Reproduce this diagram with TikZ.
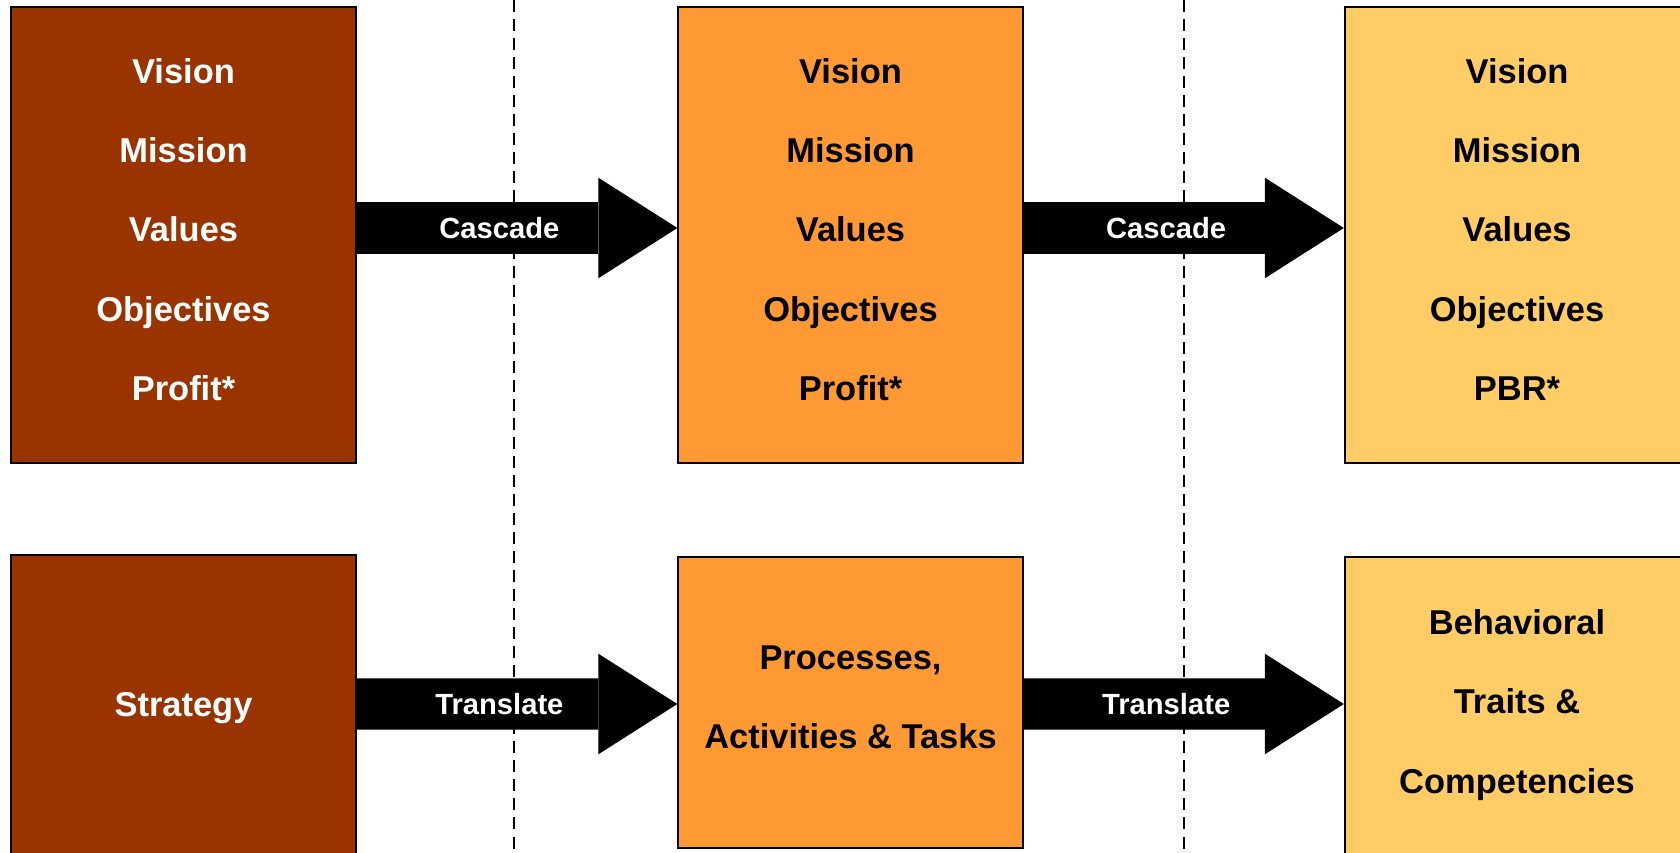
\documentclass[tikz,border=0pt]{standalone}
\usepackage{fontspec}
\setmainfont{Liberation Sans}
\usetikzlibrary{arrows.meta}
\definecolor{rustbrown}{HTML}{993300}
\definecolor{deptorange}{HTML}{FF9933}
\definecolor{indivyellow}{HTML}{FFCC66}

\begin{document}
\begin{tikzpicture}[x=0.01cm, y=-0.01cm]

\tikzstyle{orgbox}=[align=center, draw=black, line width=0.6pt, minimum
width=3.44cm, text depth=0.11cm, font=\bfseries\fontsize{9.8}{22.6}\selectfont]
\tikzstyle{fatarrow}=[line width=0.51cm, -{Triangle[length=0.79cm, width=1.006cm, line width=0pt]}]
\tikzstyle{arrowlabel}=[text=white, font=\bfseries\fontsize{8.3}{10}\selectfont]
\tikzstyle{divider}=[line width=0.75pt, dash pattern=on 0.12cm off 0.07cm]

\useasboundingbox (0,0) rectangle (1680,852);
\clip (0,0) rectangle (1680,852);

\draw[divider] (514,0) -- (514,852);
\draw[divider] (1184,0) -- (1184,852);

\node[orgbox, fill=rustbrown, text=white, minimum height=4.56cm] (corpstmt) at (183.5,235)
	{Vision\\Mission\\Values\\Objectives\\Profit*};
\node[orgbox, fill=deptorange, minimum height=4.56cm] (deptstmt) at (850.5,235)
	{Vision\\Mission\\Values\\Objectives\\Profit*};
\node[orgbox, fill=indivyellow, minimum height=4.56cm] (indivstmt) at (1517,235)
	{Vision\\Mission\\Values\\Objectives\\PBR*};

\node[orgbox, fill=rustbrown, text=white, minimum height=3.1cm] (strategy) at (183.5,710) {Strategy};
\node[orgbox, fill=deptorange, minimum height=2.91cm] (processes) at (850.5,702.5)
	{Processes,\\Activities \& Tasks};
\node[orgbox, fill=indivyellow, minimum height=3cm] (traits) at (1517,707)
	{Behavioral\\Traits \&\\Competencies};

\draw[fatarrow] ([yshift=0.07cm]corpstmt.east) -- ([yshift=0.07cm]deptstmt.west)
	node[arrowlabel, pos=0.445] {Cascade};
\draw[fatarrow] ([yshift=0.07cm]deptstmt.east) -- ([yshift=0.07cm]indivstmt.west)
	node[arrowlabel, pos=0.445] {Cascade};
\draw[fatarrow] ([yshift=0.06cm]strategy.east) -- ([yshift=-0.015cm]processes.west)
	node[arrowlabel, pos=0.445] {Translate};
\draw[fatarrow] ([yshift=-0.015cm]processes.east) -- ([yshift=0.03cm]traits.west)
	node[arrowlabel, pos=0.445] {Translate};
\end{tikzpicture}
\end{document}
